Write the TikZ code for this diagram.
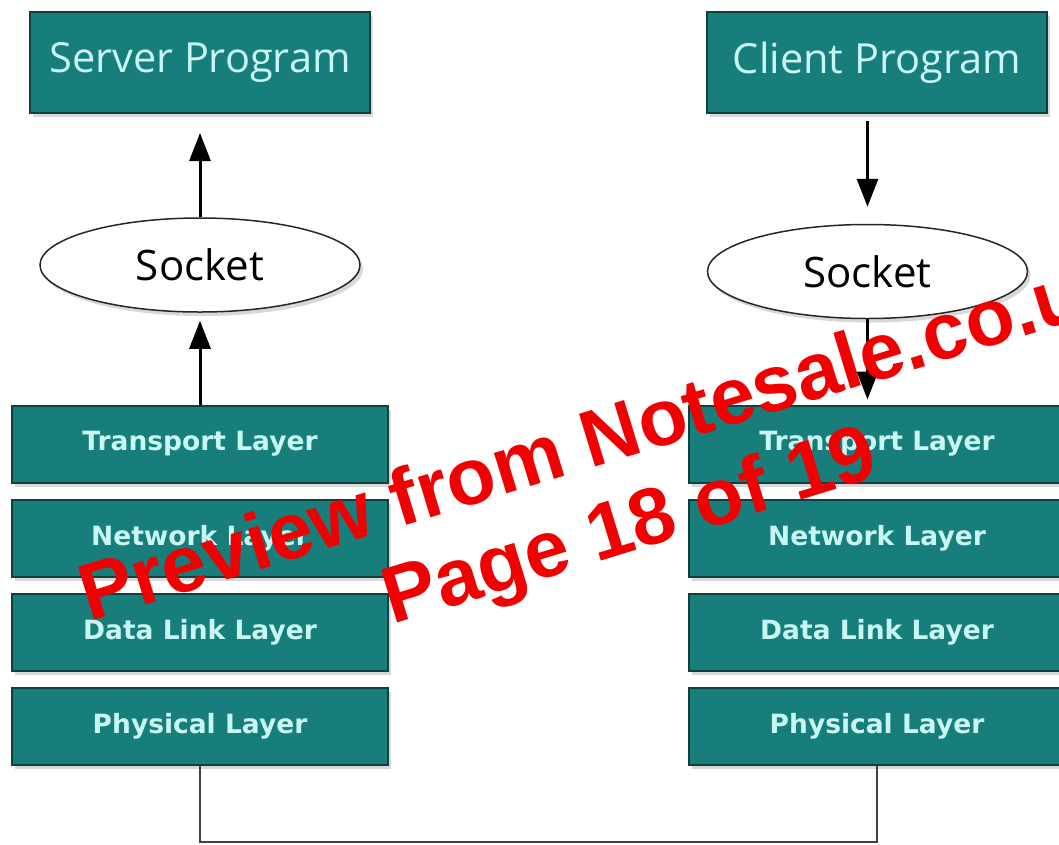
\documentclass[tikz,border=0pt]{standalone}
\usepackage{fontspec}
\usetikzlibrary{arrows.meta,shadows,shapes.geometric}
\newfontfamily\progfont{Open Sans}
\newfontfamily\layerfont{DejaVu Sans}
\newfontfamily\wmfont{Liberation Sans}
\definecolor{tealfill}{RGB}{24,126,123}
\definecolor{tealedge}{RGB}{14,66,64}
\definecolor{cyantext}{RGB}{200,246,243}
\definecolor{wmred}{RGB}{240,0,0}
\begin{document}
\begin{tikzpicture}[x=1pt,y=-1pt,
  shad/.style={drop shadow={opacity=0.3, shadow xshift=3pt, shadow yshift=-4pt}},
  progbox/.style={draw=tealedge, line width=2pt, fill=tealfill, minimum width=340pt,
    minimum height=101pt, inner sep=0pt, text=cyantext,
    font=\progfont\fontsize{41.5}{50}\selectfont, shad},
  layerbox/.style={progbox, minimum width=376pt, minimum height=77pt,
    font=\layerfont\bfseries\fontsize{26.5}{32}\selectfont},
  sock/.style={ellipse, draw=black!85, line width=1.5pt, fill=white, minimum width=320pt,
    minimum height=94pt, inner sep=0pt, font=\progfont\fontsize{42}{50}\selectfont, shad},
  arr/.style={line width=3pt, -{Triangle[length=28pt,width=21pt]}},
  wire/.style={draw=black!75, line width=1.5pt},
  wm/.style={text=wmred, font=\wmfont\bfseries\fontsize{80}{96}\selectfont,
    inner sep=0pt, rotate=17, anchor=base west}]
\useasboundingbox (0,0) rectangle (1059,844);
\fill[white] (0,0) rectangle (1059,844);
\begin{scope}
\clip (0,0) rectangle (1059,844);
% programs
\node[progbox] (server) at (200,62.5) {Server Program};
\node[progbox] (client) at (877,62.5) {Client Program};
% sockets
\node[sock] (lsock) at (200,265) {Socket};
\node[sock] (rsock) at (867.5,271.5) {Socket};
% layers
\node[layerbox] (ltra) at (200,444) {Transport Layer};
\node[layerbox] (lnet) at (200,538.5) {Network Layer};
\node[layerbox] (ldat) at (200,632) {Data Link Layer};
\node[layerbox] (lphy) at (200,726.5) {Physical Layer};
\node[layerbox] (rtra) at (877,444) {Transport Layer};
\node[layerbox] (rnet) at (877,538.5) {Network Layer};
\node[layerbox] (rdat) at (877,632) {Data Link Layer};
\node[layerbox] (rphy) at (877,726.5) {Physical Layer};
% arrows
\draw[arr, shorten >=19pt] (lsock.north) -- (server.south);
\draw[arr, shorten >=8pt] (ltra.north) -- (lsock.south);
\draw[arr, shorten <=7pt, shorten >=17pt] (client.south -| rsock.north) -- (rsock.north);
\draw[arr, shorten >=5pt] (rsock.south) -- (rsock.south |- rtra.north);
% link between physical layers
\draw[wire] (lphy.south) -- ++(0,76) -| (rphy.south);
% watermark
\node[wm] (wm1) at (89,622) {Preview from Notesale.co.uk};
\node[wm] (wm2) at (392,625) {Page 18 of 19};
\end{scope}
\end{tikzpicture}
\end{document}
